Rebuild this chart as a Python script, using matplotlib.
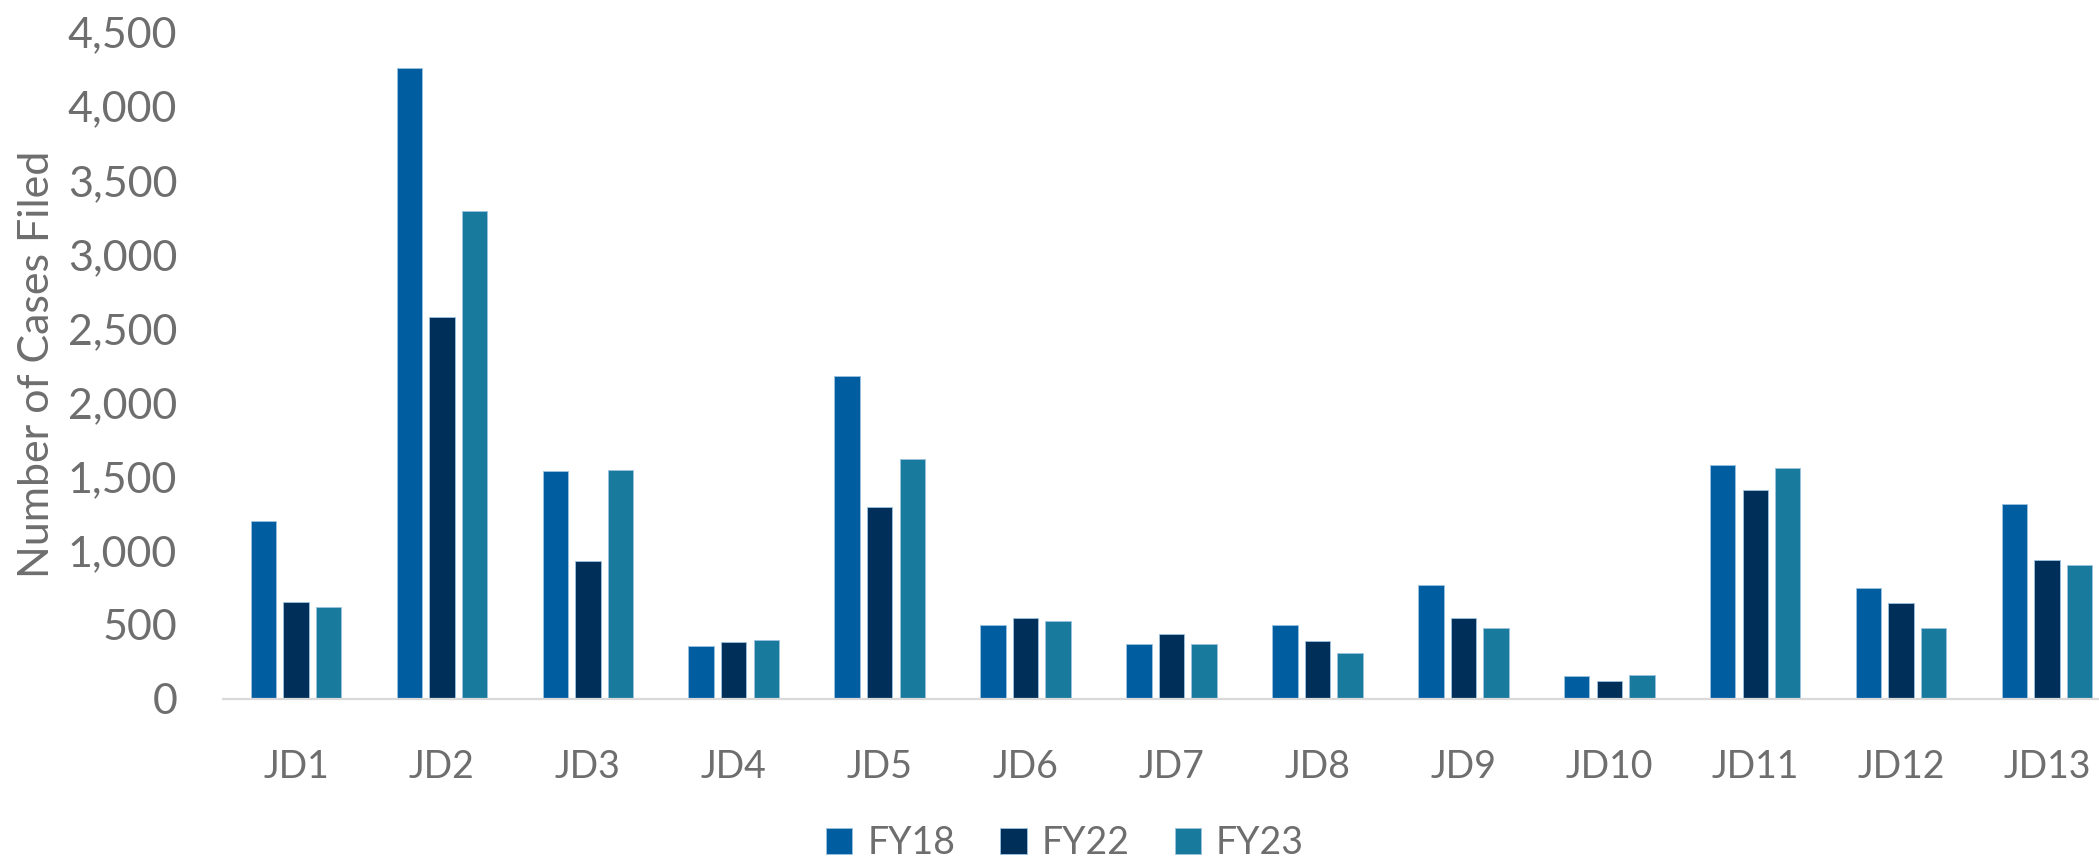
import numpy as np
import matplotlib
matplotlib.use('Agg')
import matplotlib.pyplot as plt

# 데이터
districts = ['JD1', 'JD2', 'JD3', 'JD4', 'JD5', 'JD6', 'JD7', 'JD8', 'JD9', 'JD10', 'JD11', 'JD12', 'JD13']
fy18 = [1200, 4257, 1536, 360, 2180, 502, 368, 502, 771, 158, 1582, 749, 1313]
fy22 = [653, 2579, 929, 387, 1297, 545, 440, 390, 545, 121, 1409, 650, 935]
fy23 = [619, 3294, 1548, 396, 1616, 529, 368, 310, 477, 161, 1557, 477, 904]
series_names = ['FY18', 'FY22', 'FY23']
colors = ['#005DA0', '#00305A', '#187A9C']

plt.rcParams['font.family'] = ['Lato', 'DejaVu Sans']
gray = '#6E6E6E'

W, H = 2099, 858
fig = plt.figure(figsize=(W / 100, H / 100), dpi=100)
left, right, top, bottom = 223, 2099, 32, 699
ax = fig.add_axes([left / W, (H - bottom) / H, (right - left) / W, (bottom - top) / H])

x = np.arange(len(districts))
step = 0.223
width = 0.174
for i, (vals, name) in enumerate(zip([fy18, fy22, fy23], series_names)):
    ax.bar(x + (i - 1) * step, vals, width, color=colors[i], label=name,
           edgecolor='#9CC3E0', linewidth=0.6)

ax.set_xlim(-0.5, 12.356)
ax.set_ylim(0, 4500)
ax.set_yticks(np.arange(0, 4501, 500))
ax.yaxis.set_major_formatter(matplotlib.ticker.FuncFormatter(lambda v, p: f'{int(v):,}'))
ax.set_xticks(x)
ax.set_xticklabels(districts)

for s in ['top', 'right', 'left']:
    ax.spines[s].set_visible(False)
ax.spines['bottom'].set_color('#D9D9D9')
ax.spines['bottom'].set_linewidth(1.6)
ax.tick_params(axis='both', length=0, colors=gray)
ax.tick_params(axis='x', labelsize=27, pad=36)
ax.tick_params(axis='y', labelsize=31, pad=33)

fig.text(37 / W, (H - 364) / H, 'Number of Cases Filed', rotation=90, fontsize=31,
         color=gray, ha='center', va='center')

fig.legend(loc='center', bbox_to_anchor=(1065 / W, (H - 843) / H), ncol=3, frameon=False,
           fontsize=27, labelcolor=gray, handlelength=0.7, handleheight=0.7,
           handletextpad=0.4, columnspacing=1.2, borderpad=0)

fig.savefig('out.png', dpi=100)
